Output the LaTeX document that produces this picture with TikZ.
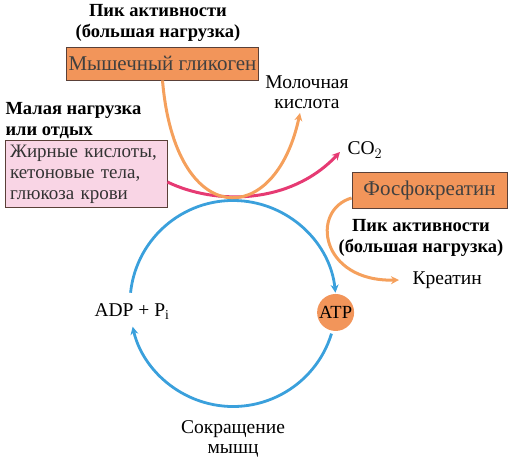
\documentclass[tikz,border=0pt]{standalone}
\usepackage{fontspec}
\setmainfont{Liberation Serif}
\usepackage{tikz}
\usetikzlibrary{
  arrows.meta,
  positioning,
  calc
}
\definecolor{boxorange}{HTML}{F2955A}
\definecolor{arroworange}{HTML}{F5A05C}
\definecolor{fatpink}{HTML}{F9D5E5}
\definecolor{cyclemagenta}{HTML}{E63A73}
\definecolor{cycleblue}{HTML}{3AA0DC}
\definecolor{boxline}{HTML}{5A4038}
\tikzstyle{fuelbox} = [
  rectangle, draw=boxline, thick, fill=boxorange,
  inner sep=2pt, font=\fontsize{21}{22}\selectfont, text=black!75
]
\tikzstyle{pinkbox} = [
  rectangle, draw=boxline, thick, fill=fatpink,
  align=left, inner sep=4pt, font=\fontsize{19}{21}\selectfont, text=black!80
]
\tikzstyle{headlabel} = [
  align=center, font=\bfseries\fontsize{18.5}{21}\selectfont
]
\tikzstyle{plainlabel} = [
  align=center, font=\fontsize{19.5}{20}\selectfont
]
\tikzstyle{atpdot} = [
  circle, fill=boxorange, minimum size=37pt, inner sep=0pt,
  font=\fontsize{18.5}{18}\selectfont
]
\tikzstyle{orangearrow} = [-{Stealth[length=8pt,width=8pt]}, line width=3pt, arroworange]
\tikzstyle{magentaarrow} = [-{Stealth[length=8pt,width=8pt]}, line width=3pt, cyclemagenta]
\tikzstyle{bluearrow} = [-{Stealth[length=8pt,width=8pt]}, line width=2.8pt, cycleblue]

\begin{document}
\begin{tikzpicture}[x=1pt,y=1pt]
\useasboundingbox (0,0) rectangle (515,460);

% --- Nodes ---
\node[headlabel] (peaktop) at (158,437.5) {Пик активности\\(большая нагрузка)};
\node[fuelbox, minimum width=191pt, minimum height=33pt] (glyco) at (162.5,396.5) {Мышечный гликоген};
\node[plainlabel] (lactic) at (307,368) {Молочная\\кислота};
\node[headlabel, align=left, anchor=west] (rest) at (2,339) {Малая нагрузка\\ или отдых};
\node[pinkbox, minimum width=162pt, minimum height=62pt, text width=152pt] (fats) at (86,286)
  {Жирные кислоты,\\кетоновые тела,\\ глюкоза крови};
\node[plainlabel, anchor=west] (co2) at (344,310) {CO$_2$};
\node[fuelbox, minimum width=155pt, minimum height=36pt] (phos) at (429.5,270) {Фосфокреатин};
\node[headlabel] (peakright) at (421,222) {Пик активности\\(большая нагрузка)};
\node[plainlabel, anchor=west] (creatine) at (409,180) {Креатин};

\coordinate (cyc) at (233,156.5);
\node[atpdot] (atp) at ($(cyc)+(-5:103)$) {ATP};
\node[plainlabel] (adp) at (132,148) {ADP + P$_{\mathrm{i}}$};
\node[plainlabel] (contract) at (233,21) {Сокращение\\мышц};
\coordinate (adptop) at ($(cyc)+(174:103)$);
\coordinate (atpbot) at ($(cyc)+(-17:103)$);
\coordinate (lacticend) at (300,347);
\coordinate (co2end) at (340,308);
\coordinate (creatineend) at (399,180);

% --- Arrows ---
\draw[bluearrow] (adptop) arc[start angle=174, end angle=6, radius=103];
\draw[bluearrow] (atpbot) arc[start angle=-17, end angle=-167, radius=103];
\draw[magentaarrow] ($(fats.east)+(0,-8)$) .. controls (215,255) and (290,255) .. (co2end);
\draw[orangearrow] (glyco.south) .. controls (175,230) and (275,230) .. (lacticend);
\draw[orangearrow] ($(phos.west)+(0,-8)$) .. controls (310,250) and (320,178) .. (creatineend);

\end{tikzpicture}
\end{document}
